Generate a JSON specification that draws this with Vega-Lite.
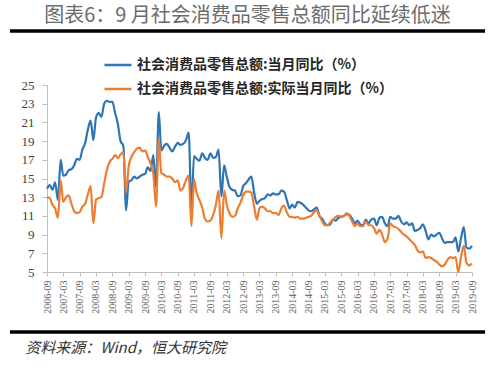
{
  "$schema": "https://vega.github.io/schema/vega-lite/v6.json",
  "width": 425,
  "height": 187,
  "autosize": {"type": "none"},
  "padding": {"left": 47, "top": 85, "right": 28, "bottom": 99},
  "background": "white",
  "config": {"view": {"stroke": null}, "axis": {"labelOverlap": false, "labelFlush": false}},
  "title": {
    "text": "图表6：9 月社会消费品零售总额同比延续低迷",
    "font": "Noto Sans CJK SC",
    "fontSize": 20,
    "fontWeight": "normal",
    "color": "#6B6B6B",
    "anchor": "middle",
    "frame": "bounds",
    "offset": 3
  },
  "layer": [
    {
      "data": {"values": [
        {"date":"2006-09","nominal":13.9,"real":13.0},
        {"date":"2006-10","nominal":14.3,"real":12.9},
        {"date":"2006-11","nominal":13.8,"real":12.2},
        {"date":"2006-12","nominal":14.6,"real":11.8},
        {"date":"2007-01","nominal":12.7,"real":10.8},
        {"date":"2007-02","nominal":17.0,"real":14.8},
        {"date":"2007-03","nominal":15.3,"real":12.5},
        {"date":"2007-04","nominal":15.4,"real":13.0},
        {"date":"2007-05","nominal":15.9,"real":13.2},
        {"date":"2007-06","nominal":16.0,"real":12.3},
        {"date":"2007-07","nominal":16.4,"real":11.5},
        {"date":"2007-08","nominal":17.1,"real":11.3},
        {"date":"2007-09","nominal":17.0,"real":11.4},
        {"date":"2007-10","nominal":18.1,"real":12.0},
        {"date":"2007-11","nominal":18.8,"real":12.3},
        {"date":"2007-12","nominal":20.2,"real":13.3},
        {"date":"2008-01","nominal":21.2,"real":14.2},
        {"date":"2008-02","nominal":19.1,"real":10.2},
        {"date":"2008-03","nominal":21.5,"real":12.7},
        {"date":"2008-04","nominal":22.0,"real":12.9},
        {"date":"2008-05","nominal":21.6,"real":13.0},
        {"date":"2008-06","nominal":23.0,"real":14.5},
        {"date":"2008-07","nominal":23.3,"real":15.9},
        {"date":"2008-08","nominal":23.2,"real":16.8},
        {"date":"2008-09","nominal":23.2,"real":17.1},
        {"date":"2008-10","nominal":22.0,"real":17.5},
        {"date":"2008-11","nominal":20.8,"real":17.2},
        {"date":"2008-12","nominal":19.0,"real":17.6},
        {"date":"2009-01","nominal":18.5,"real":17.8},
        {"date":"2009-02","nominal":11.6,"real":13.5},
        {"date":"2009-03","nominal":14.7,"real":16.3},
        {"date":"2009-04","nominal":14.8,"real":17.3},
        {"date":"2009-05","nominal":15.2,"real":17.8},
        {"date":"2009-06","nominal":15.0,"real":18.2},
        {"date":"2009-07","nominal":15.2,"real":18.3},
        {"date":"2009-08","nominal":15.4,"real":17.9},
        {"date":"2009-09","nominal":15.5,"real":18.0},
        {"date":"2009-10","nominal":16.2,"real":17.3},
        {"date":"2009-11","nominal":15.8,"real":16.6},
        {"date":"2009-12","nominal":17.5,"real":15.6},
        {"date":"2010-01","nominal":14.1,"real":12.0},
        {"date":"2010-02","nominal":22.1,"real":19.2},
        {"date":"2010-03","nominal":18.0,"real":15.6},
        {"date":"2010-04","nominal":18.5,"real":15.4},
        {"date":"2010-05","nominal":18.7,"real":15.2},
        {"date":"2010-06","nominal":18.3,"real":15.2},
        {"date":"2010-07","nominal":17.9,"real":15.0},
        {"date":"2010-08","nominal":18.4,"real":14.6},
        {"date":"2010-09","nominal":18.8,"real":14.8},
        {"date":"2010-10","nominal":18.6,"real":13.7},
        {"date":"2010-11","nominal":18.7,"real":14.0},
        {"date":"2010-12","nominal":19.1,"real":14.8},
        {"date":"2011-01","nominal":19.9,"real":15.3},
        {"date":"2011-02","nominal":11.6,"real":9.9},
        {"date":"2011-03","nominal":17.4,"real":14.9},
        {"date":"2011-04","nominal":17.1,"real":13.4},
        {"date":"2011-05","nominal":16.9,"real":12.7},
        {"date":"2011-06","nominal":17.7,"real":11.9},
        {"date":"2011-07","nominal":17.2,"real":10.7},
        {"date":"2011-08","nominal":17.0,"real":10.4},
        {"date":"2011-09","nominal":17.7,"real":10.5},
        {"date":"2011-10","nominal":17.2,"real":11.1},
        {"date":"2011-11","nominal":17.3,"real":12.2},
        {"date":"2011-12","nominal":18.1,"real":13.7},
        {"date":"2012-01","nominal":13.1,"real":8.6},
        {"date":"2012-02","nominal":16.4,"real":13.7},
        {"date":"2012-03","nominal":15.2,"real":12.2},
        {"date":"2012-04","nominal":14.1,"real":11.3},
        {"date":"2012-05","nominal":13.8,"real":10.9},
        {"date":"2012-06","nominal":13.7,"real":11.0},
        {"date":"2012-07","nominal":13.1,"real":11.8},
        {"date":"2012-08","nominal":13.2,"real":12.4},
        {"date":"2012-09","nominal":14.2,"real":13.2},
        {"date":"2012-10","nominal":14.5,"real":13.6},
        {"date":"2012-11","nominal":14.9,"real":13.6},
        {"date":"2012-12","nominal":15.2,"real":13.5},
        {"date":"2013-01","nominal":13.5,"real":12.0},
        {"date":"2013-02","nominal":12.3,"real":10.6},
        {"date":"2013-03","nominal":12.6,"real":11.8},
        {"date":"2013-04","nominal":12.8,"real":12.0},
        {"date":"2013-05","nominal":12.9,"real":11.8},
        {"date":"2013-06","nominal":13.3,"real":11.5},
        {"date":"2013-07","nominal":13.2,"real":11.5},
        {"date":"2013-08","nominal":13.4,"real":11.3},
        {"date":"2013-09","nominal":13.3,"real":11.3},
        {"date":"2013-10","nominal":13.3,"real":11.1},
        {"date":"2013-11","nominal":13.7,"real":11.8},
        {"date":"2013-12","nominal":13.6,"real":12.1},
        {"date":"2014-01","nominal":12.7,"real":11.4},
        {"date":"2014-02","nominal":11.8,"real":10.9},
        {"date":"2014-03","nominal":12.2,"real":10.9},
        {"date":"2014-04","nominal":11.9,"real":10.8},
        {"date":"2014-05","nominal":12.5,"real":10.9},
        {"date":"2014-06","nominal":12.4,"real":10.7},
        {"date":"2014-07","nominal":12.2,"real":10.7},
        {"date":"2014-08","nominal":11.9,"real":10.8},
        {"date":"2014-09","nominal":11.6,"real":10.9},
        {"date":"2014-10","nominal":11.5,"real":11.0},
        {"date":"2014-11","nominal":11.7,"real":11.4},
        {"date":"2014-12","nominal":11.9,"real":11.6},
        {"date":"2015-01","nominal":11.0,"real":11.0},
        {"date":"2015-02","nominal":10.7,"real":10.4},
        {"date":"2015-03","nominal":10.2,"real":10.0},
        {"date":"2015-04","nominal":10.0,"real":10.0},
        {"date":"2015-05","nominal":10.1,"real":10.3},
        {"date":"2015-06","nominal":10.6,"real":10.6},
        {"date":"2015-07","nominal":10.5,"real":10.9},
        {"date":"2015-08","nominal":10.8,"real":11.0},
        {"date":"2015-09","nominal":10.9,"real":10.9},
        {"date":"2015-10","nominal":11.0,"real":11.0},
        {"date":"2015-11","nominal":11.2,"real":11.3},
        {"date":"2015-12","nominal":11.1,"real":11.0},
        {"date":"2016-01","nominal":10.7,"real":10.4},
        {"date":"2016-02","nominal":10.2,"real":9.9},
        {"date":"2016-03","nominal":10.5,"real":10.2},
        {"date":"2016-04","nominal":10.1,"real":9.9},
        {"date":"2016-05","nominal":10.0,"real":9.9},
        {"date":"2016-06","nominal":10.6,"real":10.4},
        {"date":"2016-07","nominal":10.2,"real":10.0},
        {"date":"2016-08","nominal":10.6,"real":10.0},
        {"date":"2016-09","nominal":10.7,"real":9.7},
        {"date":"2016-10","nominal":10.0,"real":9.1},
        {"date":"2016-11","nominal":10.8,"real":9.5},
        {"date":"2016-12","nominal":10.9,"real":9.0},
        {"date":"2017-01","nominal":10.2,"real":8.2},
        {"date":"2017-02","nominal":9.9,"real":8.6},
        {"date":"2017-03","nominal":10.9,"real":10.2},
        {"date":"2017-04","nominal":10.7,"real":9.9},
        {"date":"2017-05","nominal":10.7,"real":9.8},
        {"date":"2017-06","nominal":11.0,"real":9.6},
        {"date":"2017-07","nominal":10.4,"real":9.3},
        {"date":"2017-08","nominal":10.1,"real":9.0},
        {"date":"2017-09","nominal":10.3,"real":8.8},
        {"date":"2017-10","nominal":10.0,"real":8.5},
        {"date":"2017-11","nominal":10.2,"real":8.2},
        {"date":"2017-12","nominal":9.4,"real":7.9},
        {"date":"2018-01","nominal":9.5,"real":7.3},
        {"date":"2018-02","nominal":9.7,"real":7.1},
        {"date":"2018-03","nominal":10.1,"real":7.2},
        {"date":"2018-04","nominal":9.4,"real":6.5},
        {"date":"2018-05","nominal":8.5,"real":6.6},
        {"date":"2018-06","nominal":9.0,"real":6.5},
        {"date":"2018-07","nominal":8.8,"real":6.3},
        {"date":"2018-08","nominal":9.0,"real":6.1},
        {"date":"2018-09","nominal":9.2,"real":5.8},
        {"date":"2018-10","nominal":8.6,"real":5.6},
        {"date":"2018-11","nominal":8.1,"real":5.8},
        {"date":"2018-12","nominal":8.2,"real":6.3},
        {"date":"2019-01","nominal":8.2,"real":6.6},
        {"date":"2019-02","nominal":8.2,"real":6.5},
        {"date":"2019-03","nominal":8.7,"real":6.6},
        {"date":"2019-04","nominal":7.2,"real":5.0},
        {"date":"2019-05","nominal":8.6,"real":6.6},
        {"date":"2019-06","nominal":9.8,"real":7.8},
        {"date":"2019-07","nominal":7.6,"real":6.0},
        {"date":"2019-08","nominal":7.5,"real":5.7},
        {"date":"2019-09","nominal":7.8,"real":5.9}
      ]},
      "transform": [{"fold": ["nominal", "real"], "as": ["series", "value"]}],
      "mark": {"type": "line", "strokeWidth": 2.2, "interpolate": "monotone"},
      "encoding": {
        "x": {
          "field": "date",
          "type": "temporal",
          "scale": {
            "type": "utc",
            "domain": [
              {"year": 2006, "month": 9, "date": 1, "utc": true},
              {"year": 2019, "month": 9, "date": 1, "utc": true}
            ]
          },
          "axis": {
            "title": null,
            "grid": false,
            "format": "%Y-%m",
            "tickCount": 40,
            "values": [
              {"year": 2006, "month": 9, "date": 1, "utc": true},
              {"year": 2007, "month": 3, "date": 1, "utc": true},
              {"year": 2007, "month": 9, "date": 1, "utc": true},
              {"year": 2008, "month": 3, "date": 1, "utc": true},
              {"year": 2008, "month": 9, "date": 1, "utc": true},
              {"year": 2009, "month": 3, "date": 1, "utc": true},
              {"year": 2009, "month": 9, "date": 1, "utc": true},
              {"year": 2010, "month": 3, "date": 1, "utc": true},
              {"year": 2010, "month": 9, "date": 1, "utc": true},
              {"year": 2011, "month": 3, "date": 1, "utc": true},
              {"year": 2011, "month": 9, "date": 1, "utc": true},
              {"year": 2012, "month": 3, "date": 1, "utc": true},
              {"year": 2012, "month": 9, "date": 1, "utc": true},
              {"year": 2013, "month": 3, "date": 1, "utc": true},
              {"year": 2013, "month": 9, "date": 1, "utc": true},
              {"year": 2014, "month": 3, "date": 1, "utc": true},
              {"year": 2014, "month": 9, "date": 1, "utc": true},
              {"year": 2015, "month": 3, "date": 1, "utc": true},
              {"year": 2015, "month": 9, "date": 1, "utc": true},
              {"year": 2016, "month": 3, "date": 1, "utc": true},
              {"year": 2016, "month": 9, "date": 1, "utc": true},
              {"year": 2017, "month": 3, "date": 1, "utc": true},
              {"year": 2017, "month": 9, "date": 1, "utc": true},
              {"year": 2018, "month": 3, "date": 1, "utc": true},
              {"year": 2018, "month": 9, "date": 1, "utc": true},
              {"year": 2019, "month": 3, "date": 1, "utc": true},
              {"year": 2019, "month": 9, "date": 1, "utc": true}
            ],
            "labelAngle": -90,
            "labelFont": "Liberation Serif",
            "labelFontSize": 10,
            "labelColor": "#595959",
            "labelOverlap": false,
            "labelFlush": false,
            "labelPadding": 4,
            "domainColor": "#BFBFBF",
            "tickColor": "#BFBFBF",
            "tickSize": 4
          }
        },
        "y": {
          "field": "value",
          "type": "quantitative",
          "scale": {"domain": [5, 25], "nice": false, "zero": false},
          "axis": {
            "title": null,
            "grid": false,
            "tickCount": 20,
            "values": [5, 7, 9, 11, 13, 15, 17, 19, 21, 23, 25],
            "labelOverlap": false,
            "labelFont": "Liberation Serif",
            "labelFontSize": 13,
            "labelColor": "#404040",
            "labelPadding": 8,
            "domainColor": "#BFBFBF",
            "tickColor": "#BFBFBF",
            "tickSize": 5
          }
        },
        "color": {
          "field": "series",
          "type": "nominal",
          "scale": {"domain": ["nominal", "real"], "range": ["#2E75B6", "#ED7D31"]},
          "legend": {
            "orient": "none",
            "legendX": 56,
            "legendY": -35,
            "direction": "vertical",
            "title": null,
            "symbolType": "stroke",
            "symbolSize": 729,
            "symbolStrokeWidth": 2.5,
            "labelFont": "Noto Sans CJK SC",
            "labelFontSize": 14,
            "labelFontWeight": "bold",
            "labelColor": "#262626",
            "labelLimit": 0,
            "labelOffset": 4,
            "rowPadding": 2,
            "labelExpr": "datum.value == 'nominal' ? '社会消费品零售总额:当月同比（%）' : '社会消费品零售总额:实际当月同比（%）'"
          }
        }
      }
    },
    {
      "data": {"values": [{}]},
      "mark": {"type": "rule", "color": "#000000", "strokeWidth": 3.5},
      "encoding": {
        "x": {"datum": {"year": 2005, "month": 7, "date": 14, "utc": true}, "type": "temporal"},
        "x2": {"datum": {"year": 2020, "month": 1, "date": 25, "utc": true}},
        "y": {"datum": 30.78, "type": "quantitative"}
      }
    },
    {
      "data": {"values": [{}]},
      "mark": {"type": "rule", "color": "#000000", "strokeWidth": 3.5},
      "encoding": {
        "x": {"datum": {"year": 2005, "month": 7, "date": 14, "utc": true}, "type": "temporal"},
        "x2": {"datum": {"year": 2020, "month": 1, "date": 25, "utc": true}},
        "y": {"datum": -1.42, "type": "quantitative"}
      }
    },
    {
      "data": {"values": [{"note": "资料来源：Wind，恒大研究院"}]},
      "mark": {"type": "text", "align": "left", "baseline": "middle", "font": "Noto Sans CJK SC", "fontSize": 15, "fontStyle": "italic", "color": "#333333"},
      "encoding": {
        "x": {"datum": {"year": 2006, "month": 1, "date": 1, "utc": true}, "type": "temporal"},
        "y": {"datum": -3.13, "type": "quantitative"},
        "text": {"field": "note"}
      }
    }
  ]
}
